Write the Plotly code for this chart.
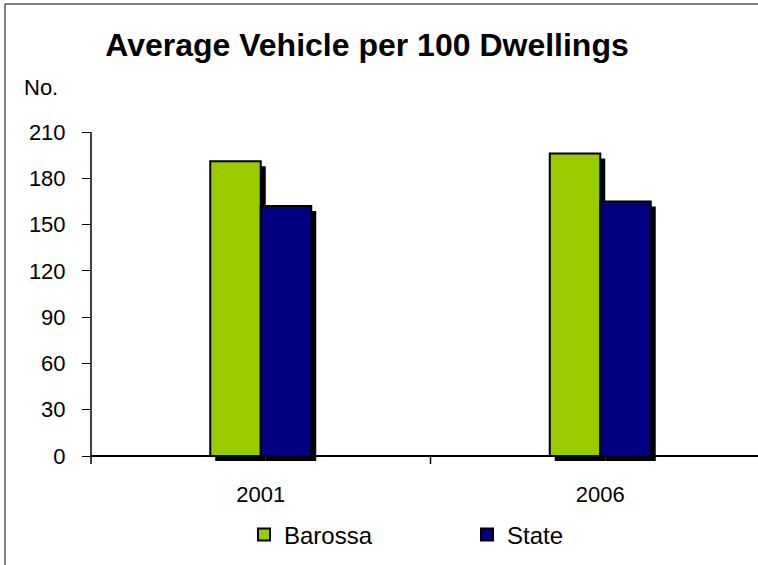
import plotly.graph_objects as go

# Data
years = ["2001", "2006"]
barossa = [191, 196]
state = [162, 165]
y_ticks = [0, 30, 60, 90, 120, 150, 180, 210]

W, H = 758, 565
L, R, T, B = 91, 0, 132, 104
plot_w = W - L - R
plot_h = H - T - B

y_min, y_max = -3.24, 210
px_per_unit = plot_h / (y_max - y_min)
cat_px = 339.5
bar_w = 50.5 / cat_px
shadow_dx = 5 / cat_px
shadow_dy = 5 / px_per_unit

font = "Liberation Sans, Arial, sans-serif"

fig = go.Figure()

series = [("Barossa", barossa, "#99CC00", -bar_w), ("State", state, "#000080", 0.0)]

# drop shadows
for name, vals, color, off in series:
    fig.add_trace(go.Bar(
        x=years, y=[v for v in vals], base=[-shadow_dy] * len(vals),
        offset=off + shadow_dx, width=bar_w,
        marker=dict(color="black", line=dict(width=0)),
        showlegend=False, hoverinfo="skip",
    ))

# bars
for name, vals, color, off in series:
    fig.add_trace(go.Bar(
        x=years, y=vals, name=name, offset=off, width=bar_w,
        marker=dict(color=color, line=dict(color="black", width=2)),
    ))


def py_to_paper(py):
    return (T + plot_h - py) / plot_h


def px_to_paper(px):
    return (px - L) / plot_w


y0_px = T + plot_h - (0 - y_min) * px_per_unit
frame = dict(color="#555555", width=1.5)
shapes = [
    # outer frame: top and left edges
    dict(type="line", xref="paper", yref="paper",
         x0=px_to_paper(5), x1=px_to_paper(W + 5),
         y0=py_to_paper(4), y1=py_to_paper(4), line=frame, layer="below"),
    dict(type="line", xref="paper", yref="paper",
         x0=px_to_paper(5), x1=px_to_paper(5),
         y0=py_to_paper(4), y1=py_to_paper(H + 5), line=frame, layer="below"),
    # x axis line at zero
    dict(type="line", xref="paper", yref="paper",
         x0=0, x1=1, y0=py_to_paper(y0_px), y1=py_to_paper(y0_px),
         line=dict(color="black", width=2)),
    # y axis line
    dict(type="line", xref="paper", yref="paper",
         x0=0, x1=0, y0=1, y1=py_to_paper(y0_px + 8),
         line=dict(color="black", width=1.5)),
    # category boundary tick
    dict(type="line", xref="paper", yref="paper",
         x0=px_to_paper(L + cat_px), x1=px_to_paper(L + cat_px),
         y0=py_to_paper(y0_px), y1=py_to_paper(y0_px + 8),
         line=dict(color="black", width=1.5)),
]

fig.update_layout(
    width=W, height=H,
    margin=dict(l=L, r=R, t=T, b=B, autoexpand=False),
    paper_bgcolor="white", plot_bgcolor="white",
    barmode="overlay",
    font=dict(family=font, size=22, color="black"),
    title=dict(text="<b>Average Vehicle per 100 Dwellings</b>",
               font=dict(family=font, size=32, color="black"),
               x=367 / W, xanchor="center", y=1 - 45 / H, yanchor="middle"),
    xaxis=dict(
        type="category", range=[-0.5, -0.5 + plot_w / cat_px],
        showline=False, showgrid=False, zeroline=False, ticks="",
        ticklabelstandoff=18, tickfont=dict(size=22),
    ),
    yaxis=dict(
        range=[y_min, y_max], tickvals=y_ticks, ticktext=[str(v) for v in y_ticks],
        showline=False, showgrid=False, zeroline=False,
        ticks="outside", ticklen=8, tickwidth=1.2, tickcolor="black",
        ticklabelstandoff=12, tickfont=dict(size=22),
    ),
    legend=dict(
        orientation="h", x=px_to_paper(244), xanchor="left",
        y=py_to_paper(535), yanchor="middle",
        entrywidth=178, entrywidthmode="pixels",
        font=dict(size=24), bgcolor="rgba(0,0,0,0)",
        itemwidth=30,
    ),
    annotations=[dict(text="No.", xref="paper", yref="paper",
                      x=px_to_paper(22), y=py_to_paper(87),
                      xanchor="left", yanchor="middle", showarrow=False,
                      font=dict(family=font, size=22, color="black"))],
    shapes=shapes,
)

fig.write_html("out.html")
